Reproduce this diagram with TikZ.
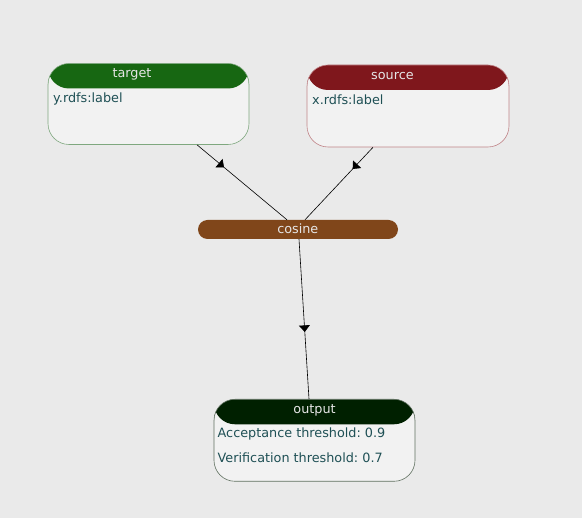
\documentclass[tikz,border=0pt]{standalone}
\usepackage{fontspec}
\setmainfont{DejaVu Sans}
\frenchspacing
\usetikzlibrary{arrows.meta,decorations.markings,calc}
\definecolor{bg}{HTML}{EAEAEA}
\definecolor{bodyfill}{HTML}{F2F2F2}
\definecolor{tgthead}{HTML}{176712}
\definecolor{tgtborder}{HTML}{7FA87F}
\definecolor{srchead}{HTML}{7F171C}
\definecolor{srcborder}{HTML}{C08488}
\definecolor{outhead}{HTML}{002000}
\definecolor{outborder}{HTML}{607060}
\definecolor{cosfill}{HTML}{80461A}
\definecolor{bodytext}{HTML}{1F5055}
\definecolor{headtext}{HTML}{E6E6E6}
\tikzset{
  box/.style={draw, rounded corners=21pt, fill=bodyfill, minimum width=201pt, minimum height=81pt, inner sep=0pt, line width=0.6pt},
  header/.style={path picture={\fill[#1] (path picture bounding box.north west) rectangle ([yshift=-25pt]path picture bounding box.north east);}},
  headtxt/.style={text=headtext, inner sep=0pt, anchor=base},
  bodytxt/.style={text=bodytext, inner sep=0pt, anchor=base west},
  edge/.style={draw=black, line width=0.6pt},
  midarrow/.style={postaction={decorate, decoration={markings, mark=at position #1 with {\arrow{Triangle[length=6.5pt,width=11pt]}}}}}
}
\begin{document}
\begin{tikzpicture}[x=1pt,y=-1pt, font=\fontsize{12.8}{15}\selectfont]
\fill[bg] (0,0) rectangle (582,518);
\useasboundingbox (0,0) rectangle (582,518);

\node[box, draw=tgtborder, header=tgthead] (t) at (148.5,104) {};
\node[headtxt] (tl) at (132,77.5) {target};
\node[bodytxt] (tb) at (53,102.5) {y.rdfs:label};

\node[box, draw=srcborder, header=srchead, minimum width=202pt, minimum height=82pt] (s) at (408,106) {};
\node[headtxt] (sl) at (392.4,79.5) {source};
\node[bodytxt] (sb) at (312,104.5) {x.rdfs:label};

\node[draw=none, fill=cosfill, rounded corners=9.5pt, minimum width=200pt, minimum height=19pt, inner sep=0pt] (c) at (298,229.5) {};
\node[headtxt] (cl) at (297.8,233.5) {cosine};

\node[box, draw=outborder, header=outhead, minimum width=201pt, minimum height=82pt] (o) at (314.5,440.3) {};
\node[headtxt] (ol) at (314.6,413.2) {output};
\node[bodytxt] (ob1) at (217.5,437.5) {Acceptance threshold: 0.9};
\node[bodytxt] (ob2) at (217.5,462.5) {Verification threshold: 0.7};

\draw[edge, midarrow=0.3] ([xshift=48.5pt]t.south) -- ([xshift=-11pt]c.north);
\draw[edge, midarrow=0.3] ([xshift=-35pt]s.south) -- ([xshift=7pt]c.north);
\draw[edge, midarrow=0.58] ([xshift=1pt]c.south) -- ([xshift=-5.5pt]o.north);
\end{tikzpicture}
\end{document}
